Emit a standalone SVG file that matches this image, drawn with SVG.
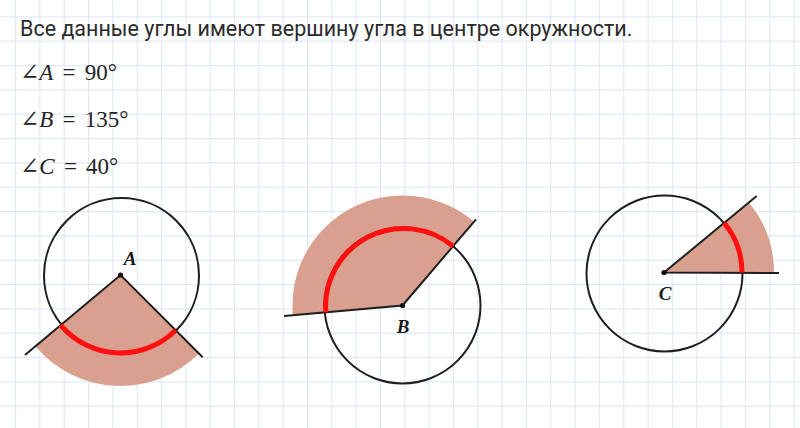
<svg xmlns="http://www.w3.org/2000/svg" width="800" height="428" viewBox="0 0 800 428">
<defs>
<pattern id="grid" x="15" y="16.3" width="24.33" height="24.33" patternUnits="userSpaceOnUse">
<path d="M0.5 0V24.33M0 0.5H24.33" fill="none" stroke="#dfe8f5" stroke-width="1.2"/>
</pattern>
<style>
.title{font-family:Roboto,"Liberation Sans",sans-serif;font-size:21.5px;fill:#2b2b2b}
.math{font-family:"Liberation Serif","DejaVu Serif",serif;font-size:23px;fill:#222;word-spacing:3.5px}
.it{font-style:italic}
.shade{fill:#d9a08f;stroke:none}
.circ{fill:none;stroke:#1e1e1e;stroke-width:2}
.ray{fill:none;stroke:#1e1e1e;stroke-width:2}
.arc{fill:none;stroke:#ff1010;stroke-width:5;stroke-linecap:butt}
.dot{fill:#111}
.lbl{font-family:"Liberation Serif","DejaVu Serif",serif;font-size:19px;font-weight:bold;font-style:italic;fill:#1a1a1a;text-anchor:middle}
</style>
</defs>
<rect width="800" height="428" fill="#ffffff"/>
<rect width="800" height="428" fill="url(#grid)"/>
<g id="text">
<text class="title" x="20" y="36">Все данные углы имеют вершину угла в центре окружности.</text>
<text class="math" x="20" y="80">∠<tspan class="it">A</tspan> = 90°</text>
<text class="math" x="20" y="127">∠<tspan class="it">B</tspan> = 135°</text>
<text class="math" x="20" y="174">∠<tspan class="it">C</tspan> = 40°</text>
</g>
<g id="angleA">
<path class="shade" d="M120.5 275 L198.9 353.5 A111 111 0 0 1 35.4 346.3 Z"/>
<circle class="circ" cx="121.5" cy="275.5" r="77.5"/>
<path class="ray" d="M25 355 L120.5 275 L202.7 357.3"/>
<path class="arc" d="M175.6 330.2 A78 78 0 0 1 60.7 325.1"/>
<circle class="dot" cx="120.5" cy="275" r="2.6"/>
<text class="lbl" x="130" y="265">A</text>
</g>
<g id="angleB">
<path class="shade" d="M402.5 305.5 L292.9 315.2 A110 110 0 0 1 473.9 221.8 Z"/>
<circle class="circ" cx="402.5" cy="305.5" r="78"/>
<path class="ray" d="M284 316 L402.5 305.5 L476 219.3"/>
<path class="arc" d="M325.8 312.4 A78 78 0 0 1 453.1 246.2"/>
<circle class="dot" cx="402.5" cy="305.5" r="2.6"/>
<text class="lbl" x="403" y="333">B</text>
</g>
<g id="angleC">
<path class="shade" d="M664 272.5 L748.8 202.5 A110 110 0 0 1 774 272.5 Z"/>
<circle class="circ" cx="664.5" cy="273.5" r="78"/>
<path class="ray" d="M779 273 L664 272.5 L756.7 196"/>
<path class="arc" d="M724.2 222.9 A78 78 0 0 1 742 272.5"/>
<circle class="dot" cx="664" cy="272.5" r="2.6"/>
<text class="lbl" x="665" y="300">C</text>
</g>
</svg>
